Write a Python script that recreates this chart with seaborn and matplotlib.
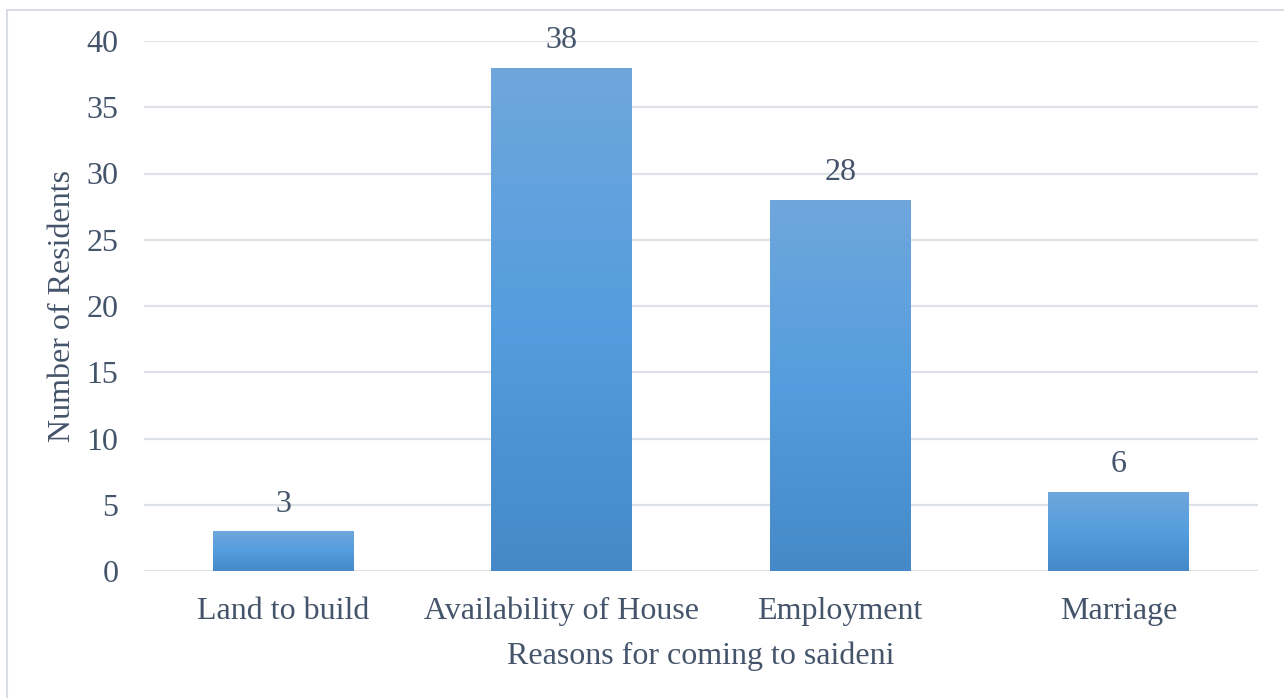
import matplotlib
matplotlib.use("Agg")
import matplotlib.pyplot as plt
from matplotlib.colors import LinearSegmentedColormap
from matplotlib.patches import Rectangle
import numpy as np
import pandas as pd
import seaborn as sns

reasons = ["Land to build", "Availability of House", "Employment", "Marriage"]
residents = [3, 38, 28, 6]
y_ticks = [0, 5, 10, 15, 20, 25, 30, 35, 40]

text_color = "#44546A"
grid_color = "#DDE1E8"

sns.set_theme(style="white")
plt.rcParams["font.family"] = ["Liberation Serif", "DejaVu Serif"]

df = pd.DataFrame({"reason": reasons, "count": residents})

fig = plt.figure(figsize=(12.84, 6.98), dpi=100)
ax = fig.add_axes([144 / 1284, 1 - 571 / 698, (1258 - 144) / 1284, (571 - 41) / 698])

sns.barplot(data=df, x="reason", y="count", ax=ax, width=0.505,
            color="#5A9FDF", saturation=1, zorder=2)

# vertical gradient fill for each bar
cmap = LinearSegmentedColormap.from_list(
    "bar_grad", ["#4589C8", "#559DDE", "#6FA7DC"])
grad = np.linspace(0, 1, 256).reshape(-1, 1)
for patch in ax.patches:
    x0, y0 = patch.get_x(), patch.get_y()
    w, h = patch.get_width(), patch.get_height()
    im = ax.imshow(grad, cmap=cmap, origin="lower", aspect="auto",
                   extent=[x0, x0 + w, y0, y0 + h], zorder=3,
                   interpolation="bilinear")
    im.set_clip_path(patch)
    patch.set_facecolor("none")
    patch.set_edgecolor("none")

ax.set_xlim(-0.5, len(reasons) - 0.5)
ax.set_ylim(0, 40)
ax.set_yticks(y_ticks)
ax.yaxis.grid(True, color=grid_color, linewidth=1.6, zorder=0)
ax.set_axisbelow(True)
for s in ax.spines.values():
    s.set_visible(False)
ax.tick_params(axis="both", length=0, labelsize=23, colors=text_color)
ax.tick_params(axis="y", pad=18.5)
ax.tick_params(axis="x", pad=18.5)

for i, v in enumerate(residents):
    ax.annotate(str(v), (i, v), xytext=(0, 9), textcoords="offset points",
                ha="center", va="bottom", fontsize=23, color=text_color)

ax.set_xlabel("Reasons for coming to saideni", fontsize=23,
              color=text_color, labelpad=11)
ax.set_ylabel("Number of Residents", fontsize=23, color=text_color,
              labelpad=7)

# chart border
fig.patches.append(Rectangle((7 / 1284, -0.1), 1.2, 1 - 10 / 698 + 0.1,
                             transform=fig.transFigure, fill=False,
                             edgecolor="#D9DDE4", linewidth=1.5))

fig.savefig("out.png", dpi=100)
